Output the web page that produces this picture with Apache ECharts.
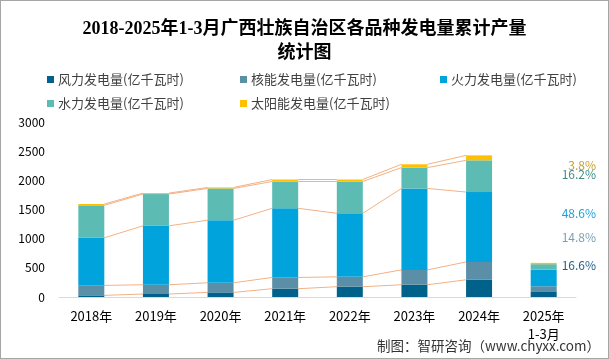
<!DOCTYPE html>
<html><head><meta charset="utf-8">
<script src="https://cdn.jsdelivr.net/npm/echarts@6/dist/echarts.min.js"></script>
<style>
html,body{margin:0;padding:0;background:#fff;}
#c{width:607px;height:357px;border:1px solid #A6A6A6;}
</style></head>
<body><div id="c"></div>
<script>
const categories = ['2018年','2019年','2020年','2021年','2022年','2023年','2024年','2025年\n1-3月'];
const seriesNames = ['风力发电量(亿千瓦时)','核能发电量(亿千瓦时)','火力发电量(亿千瓦时)','水力发电量(亿千瓦时)','太阳能发电量(亿千瓦时)'];
const wind    = [28, 51, 79, 142, 176, 210, 295, 97];
const nuclear = [171, 159, 165, 193, 170, 255, 306, 87];
const thermal = [816, 1010, 1072, 1185, 1089, 1396, 1198, 284];
const hydro   = [556, 545, 545, 460, 545, 357, 544, 95];
const solar   = [23, 16, 17, 34, 34, 57, 85, 22];
const yTicks  = [0, 500, 1000, 1500, 2000, 2500, 3000];
const shareLabels = ['16.6%','14.8%','48.6%','16.2%','3.8%'];

const colors = ['#00628B','#5B8FA7','#00A3DB','#5CBCB4','#FFC000'];
const shareColors = ['#1F5F8B','#7A9FB5','#1AA3E0','#3E8E88','#C9A02A'];
const shareY = [265, 237, 213, 174, 165];

const values = [wind, nuclear, thermal, hydro, solar];
const lastConn = 6; // series lines drawn through 2024

const cum = [];
let run = categories.map(()=>0);
values.forEach(v=>{ run = run.map((r,i)=>r+v[i]); cum.push(run.slice()); });

const chart = echarts.init(document.getElementById('c'));
const barSeries = values.map((v,k)=>({
  name: seriesNames[k], type:'bar', stack:'total', data:v, barWidth:26,
  itemStyle:{color:colors[k]}, z:3
}));
const lineSeries = cum.map((c,k)=>({
  type:'custom', silent:true, z:2,
  data: c.slice(0,lastConn).map((val,i)=>[i, val, c[i+1]]),
  encode:{x:0,y:1},
  renderItem:function(params, api){
    const i = api.value(0);
    const a = api.coord([i, api.value(1)]);
    const b = api.coord([i+1, api.value(2)]);
    const half = 13;
    return {type:'line', shape:{x1:a[0]+half,y1:a[1],x2:b[0]-half,y2:b[1]},
      style:{stroke:'#F4B183', lineWidth:1}};
  }
}));

const legendPos = [[41,67],[234,67],[434,67],[41,91],[234,91]];
const legends = seriesNames.map((n,k)=>({
  data:[n], left:legendPos[k][0], top:legendPos[k][1], icon:'rect',
  itemWidth:7, itemHeight:7, itemGap:4,
  textStyle:{fontSize:13, color:'#404040', fontFamily:'Noto Sans CJK SC', padding:[0,0,0,-1]},
  selectedMode:false
}));

const graphics = shareLabels.map((t,k)=>({
  type:'text', right:12, top:shareY[k]-7,
  style:{text:t, fill:shareColors[k], fontSize:12, fontFamily:'Noto Sans CJK SC'}
}));
graphics.push({type:'text', right:8, top:338,
  style:{text:'制图：智研咨询（www.chyxx.com）', fill:'#333', fontSize:13.5, fontFamily:'Noto Sans CJK SC'}});

chart.setOption({
  animation:false,
  title:{text:'2018-2025年1-3月广西壮族自治区各品种发电量累计产量\n统计图', left:'center', top:11,
    textStyle:{fontSize:18, fontWeight:'bold', color:'#000', fontFamily:'Liberation Serif, Noto Sans CJK SC', lineHeight:24}},
  legend:legends,
  grid:{left:58, right:32, top:121, bottom:61},
  xAxis:{type:'category', data:categories,
    axisLine:{lineStyle:{color:'#D9D9D9'}}, axisTick:{show:false},
    axisLabel:{color:'#000', fontSize:13, margin:10, lineHeight:18, fontFamily:'Noto Sans CJK SC', interval:0}},
  yAxis:{type:'value', min:yTicks[0], max:yTicks[yTicks.length-1], interval:500,
    splitLine:{show:false}, axisLine:{show:false}, axisTick:{show:false},
    axisLabel:{color:'#000', fontSize:12, margin:14, fontFamily:'Noto Sans CJK SC', formatter:function(v){return String(v);}}},
  series: barSeries.concat(lineSeries),
  graphic: graphics
});
</script></body></html>
